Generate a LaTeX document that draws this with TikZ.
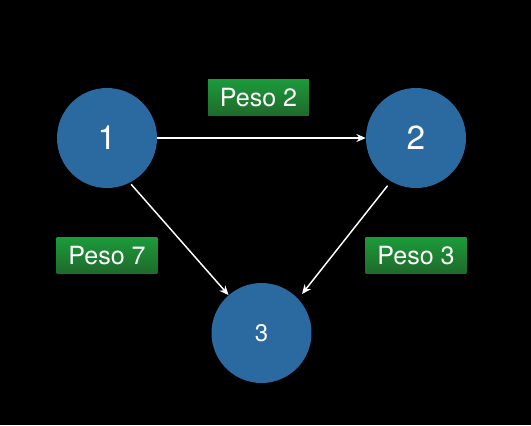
\documentclass[tikz,border=0pt]{standalone}
\usepackage{fontspec}
\setmainfont{TeX Gyre Heros}
\usetikzlibrary{arrows.meta}
\definecolor{nodeblue}{HTML}{2A6AA1}
\definecolor{pesotop}{HTML}{1C9A3A}
\definecolor{pesobottom}{HTML}{1F6A2B}
\tikzset{
  state node/.style={circle,fill=nodeblue,text=white,minimum size=75pt,inner sep=0pt},
  weight box/.style={top color=pesotop,bottom color=pesobottom,text=white,
    minimum width=75.5pt,minimum height=27pt,inner sep=0pt,font=\fontsize{18.8}{21}\selectfont},
  link line/.style={draw=white,line width=1.1pt,-{Stealth[length=7pt,width=6pt]}},
}
\begin{document}
\begin{tikzpicture}[x=0.75pt,y=-0.75pt]
\fill[black] (0,0) rectangle (531,425);
\useasboundingbox (0,0) rectangle (531,425);
% states
\node[state node,font=\fontsize{25}{28}\selectfont] (n1) at (107,138) {1};
\node[state node,font=\fontsize{25}{28}\selectfont] (n2) at (416,138) {2};
\node[state node,font=\fontsize{18}{20}\selectfont] (n3) at (261.5,333) {3};
% weights
\node[weight box] (w12) at (258.5,97.5) {Peso 2};
\node[weight box] (w13) at (107,255.5) {Peso 7};
\node[weight box] (w23) at (416,255.5) {Peso 3};
% links
\draw[link line] (n1) -- (n2);
\draw[link line,shorten <=1.5pt] (n1.297) -- (n3.131);
\draw[link line,shorten <=4pt,shorten >=4.5pt] (n2.240) -- (n3.43);
\end{tikzpicture}
\end{document}
